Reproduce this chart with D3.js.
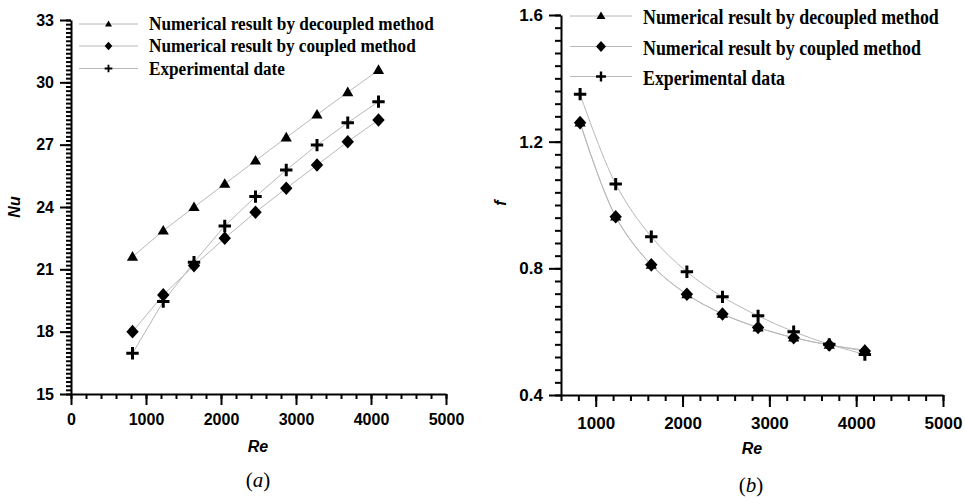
<!DOCTYPE html>
<html><head><meta charset="utf-8">
<script src="https://cdn.jsdelivr.net/npm/d3@7"></script>
<style>
html,body{margin:0;padding:0;background:#fff;}
svg{display:block;}
</style></head>
<body>
<svg id="chart" width="965" height="499"></svg>
<script>
// ---- data ----
const re = [820, 1230, 1640, 2050, 2460, 2870, 3280, 3690, 4100];
const nuDecoupled = [21.6, 22.86, 23.99, 25.11, 26.23, 27.34, 28.44, 29.52, 30.59];
const nuCoupled = [18.0, 19.77, 21.18, 22.5, 23.75, 24.9, 26.02, 27.14, 28.19];
const nuExperimental = [16.96, 19.45, 21.34, 23.09, 24.5, 25.78, 26.98, 28.06, 29.07];
const fDecoupled = [1.26, 0.963, 0.811, 0.718, 0.656, 0.613, 0.581, 0.558, 0.542];
const fCoupled = [1.26, 0.963, 0.811, 0.718, 0.656, 0.613, 0.581, 0.558, 0.539];
const fExperimental = [1.35, 1.066, 0.90, 0.789, 0.71, 0.65, 0.60, 0.56, 0.528];
const legendA = ["Numerical result by decoupled method", "Numerical result by coupled method", "Experimental date"];
const legendB = ["Numerical result by decoupled method", "Numerical result by coupled method", "Experimental data"];
const xTicksA = [0, 1000, 2000, 3000, 4000, 5000];
const xTicksB = [1000, 2000, 3000, 4000, 5000];
const yTicksA = [15, 18, 21, 24, 27, 30, 33];
const yTicksB = [0.4, 0.8, 1.2, 1.6];

const svg = d3.select("#chart");
const LINE = "#b8b8b8";

function markerPath(type, s) {
  if (type === "tri") {
    const w = 5.6 * s, h = 9.6 * s;
    return `M0,${-h * 0.6}L${w},${h * 0.4}L${-w},${h * 0.4}Z`;
  }
  if (type === "dia") {
    const w = 6.2 * s, h = 6.8 * s;
    return `M0,${-h}L${w},0L0,${h}L${-w},0Z`;
  }
  return null;
}
function drawMarker(g, type, x, y, s) {
  if (type === "plus") {
    const r = 6.2 * s;
    g.append("path").attr("d", `M${x - r},${y}H${x + r}M${x},${y - r}V${y + r}`)
      .attr("stroke", "#000").attr("stroke-width", 3 * s).attr("fill", "none");
  } else {
    g.append("path").attr("d", markerPath(type, s)).attr("transform", `translate(${x},${y})`)
      .attr("fill", "#000");
  }
}

function panel(cfg) {
  const g = svg.append("g");
  const x = d3.scaleLinear().domain(cfg.xDomain).range([cfg.x0, cfg.x1]);
  const y = d3.scaleLinear().domain(cfg.yDomain).range([cfg.y1, cfg.y0]);

  const line = d3.line().x((d, i) => x(re[i])).y(d => y(d)).curve(cfg.curve);
  cfg.series.forEach(s => {
    g.append("path").datum(s.values).attr("d", line)
      .attr("fill", "none").attr("stroke", LINE).attr("stroke-width", 1);
  });
  cfg.series.forEach(s => {
    s.values.forEach((v, i) => drawMarker(g, s.type, x(re[i]), y(v), 1));
  });

  const xMinor = d3.range(cfg.xDomain[0], cfg.xDomain[1] + 1, 200);
  const yMinor = d3.range(cfg.yDomain[0], cfg.yDomain[1] + cfg.yMinorStep / 2, cfg.yMinorStep);
  g.append("g").attr("transform", `translate(0,${cfg.y1})`)
    .call(d3.axisBottom(x).tickValues(xMinor).tickFormat("").tickSizeInner(cfg.minorLen).tickSizeOuter(0))
    .call(a => a.select(".domain").remove());
  g.append("g").attr("transform", `translate(${cfg.x0},0)`)
    .call(d3.axisLeft(y).tickValues(yMinor).tickFormat("").tickSizeInner(cfg.minorLen).tickSizeOuter(0))
    .call(a => a.select(".domain").remove());

  const xa = g.append("g").attr("transform", `translate(0,${cfg.y1})`)
    .call(d3.axisBottom(x).tickValues(cfg.xTicks).tickFormat(d3.format("d")).tickSizeInner(cfg.majorLen).tickSizeOuter(0).tickPadding(cfg.xPad));
  const ya = g.append("g").attr("transform", `translate(${cfg.x0},0)`)
    .call(d3.axisLeft(y).tickValues(cfg.yTicks).tickFormat(cfg.yFormat).tickSizeInner(cfg.majorLen).tickSizeOuter(0).tickPadding(cfg.yPad));
  [xa, ya].forEach(a => {
    a.selectAll("text").attr("font-family", "'Liberation Sans', Arial, sans-serif")
      .attr("font-weight", "bold").attr("font-size", cfg.tickFont).attr("fill", "#000");
    a.select(".domain").attr("stroke-width", 2);
  });
  g.selectAll(".tick line").attr("stroke-width", 2).attr("stroke", "#000");

  g.append("text").attr("x", cfg.xTitle[0]).attr("y", cfg.xTitle[1]).attr("text-anchor", "middle")
    .attr("font-family", "'Liberation Sans', Arial, sans-serif").attr("font-weight", "bold")
    .attr("font-style", "italic").attr("font-size", cfg.titleFont).text("Re");
  g.append("text").attr("transform", `translate(${cfg.yTitle[0]},${cfg.yTitle[1]}) rotate(-90)`)
    .attr("text-anchor", "middle")
    .attr("font-family", "'Liberation Sans', Arial, sans-serif").attr("font-weight", "bold")
    .attr("font-style", "italic").attr("font-size", cfg.titleFont).text(cfg.yName);

  const cap = g.append("text").attr("x", cfg.caption[0]).attr("y", cfg.caption[1]).attr("text-anchor", "middle")
    .attr("font-family", "'Liberation Serif', 'Times New Roman', serif").attr("font-size", 21);
  cap.append("tspan").text("(");
  cap.append("tspan").attr("font-style", "italic").text(cfg.letter);
  cap.append("tspan").text(")");

  cfg.series.forEach((s, i) => {
    const ly = cfg.legY[i];
    g.append("line").attr("x1", cfg.legX[0]).attr("x2", cfg.legX[1]).attr("y1", ly).attr("y2", ly)
      .attr("stroke", LINE).attr("stroke-width", 1);
    drawMarker(g, s.type, (cfg.legX[0] + cfg.legX[1]) / 2, ly, cfg.legScale);
    const t = g.append("text").attr("x", 0).attr("y", 0)
      .attr("font-family", "'Liberation Serif', 'Times New Roman', serif").attr("font-weight", "bold")
      .attr("font-size", cfg.legFont).text(cfg.legend[i]);
    const natural = t.node().getComputedTextLength();
    const sx = cfg.legWidths[i] / natural;
    t.attr("transform", `translate(${cfg.legTextX},${ly + cfg.legBase}) scale(${sx},1)`);
  });
}

panel({
  xDomain: [0, 5000], yDomain: [15, 33], x0: 71, x1: 446, y0: 20, y1: 394,
  xTicks: xTicksA, yTicks: yTicksA, yMinorStep: 0.2, yFormat: d3.format("d"),
  majorLen: 11, minorLen: 5, xPad: 9, yPad: 6, tickFont: 16, titleFont: 16,
  curve: d3.curveLinear,
  series: [
    { values: nuDecoupled, type: "tri" },
    { values: nuCoupled, type: "dia" },
    { values: nuExperimental, type: "plus" }
  ],
  xTitle: [258, 452], yTitle: [20, 207], yName: "Nu",
  caption: [258, 487], letter: "a",
  legend: legendA, legX: [79, 138], legY: [24, 46, 68.5], legScale: 0.62,
  legTextX: 149, legBase: 6, legFont: 18, legWidths: [285, 267, 136]
});

panel({
  xDomain: [600, 5000], yDomain: [0.4, 1.6], x0: 561, x1: 943, y0: 15, y1: 395,
  xTicks: xTicksB, yTicks: yTicksB, yMinorStep: 0.04, yFormat: d3.format(".1f"),
  majorLen: 12, minorLen: 6, xPad: 10, yPad: 6, tickFont: 17, titleFont: 16,
  curve: d3.curveCatmullRom,
  series: [
    { values: fDecoupled, type: "tri" },
    { values: fCoupled, type: "dia" },
    { values: fExperimental, type: "plus" }
  ],
  xTitle: [752, 454], yTitle: [506, 203], yName: "f",
  caption: [751, 492], letter: "b",
  legend: legendB, legX: [570, 632], legY: [16, 46.5, 76.5], legScale: 0.8,
  legTextX: 643, legBase: 8, legFont: 21, legWidths: [296, 278, 142]
});
</script>
</body></html>
